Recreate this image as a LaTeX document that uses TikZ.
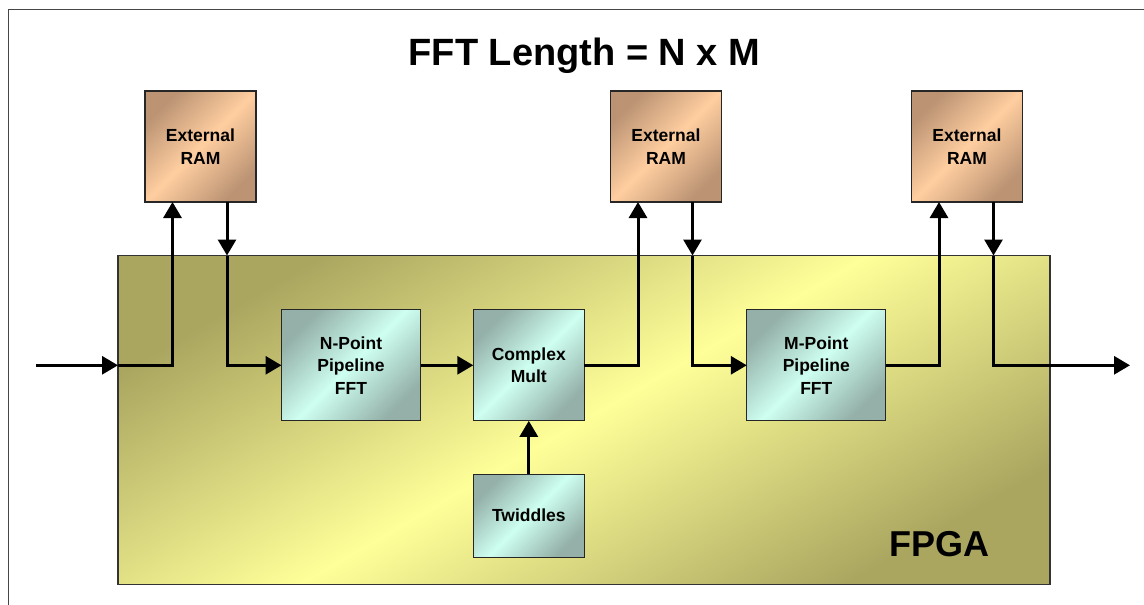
\documentclass[tikz,border=0pt]{standalone}
\usepackage{fontspec}
\setmainfont{Liberation Sans}
\usetikzlibrary{arrows.meta}

\definecolor{olivedark}{RGB}{170,166,96}
\definecolor{olivelight}{RGB}{255,255,153}
\definecolor{peachdark}{RGB}{188,148,116}
\definecolor{peachlight}{RGB}{255,206,160}
\definecolor{mintdark}{RGB}{148,176,168}
\definecolor{mintlight}{RGB}{206,255,240}
\definecolor{framegray}{RGB}{70,70,70}

\begin{document}
\begin{tikzpicture}[x=1pt,y=-1pt,
  box/.style={draw=black!85, line width=1.3pt, outer sep=0pt, inner sep=0pt,
    align=center, text=black, font=\bfseries\fontsize{17.5}{22.5}\selectfont},
  rambox/.style={box, minimum width=111pt, minimum height=111pt,
    top color=peachdark, bottom color=peachdark, middle color=peachlight, shading angle=45},
  corebox/.style={box, minimum width=#1, minimum height=111pt,
    top color=mintdark, bottom color=mintdark, middle color=mintlight, shading angle=45},
  chipbox/.style={draw=black!80, line width=1.3pt, outer sep=0pt, inner sep=0pt,
    minimum width=932pt, minimum height=329pt,
    top color=olivedark, bottom color=olivedark, middle color=olivelight, shading angle=30},
  flow/.style={line width=3pt, -{Triangle[length=16pt,width=18pt]}},
  bigtext/.style={font=\bfseries\fontsize{#1}{#1}\selectfont, text=black, inner sep=0pt, anchor=base},
]
\useasboundingbox (0,0) rectangle (1144,605);

% page frame
\draw[framegray, line width=1.5pt] (8.5,606) -- (8.5,9.5) -- (1145,9.5);

% title
\node[bigtext=38] (title) at (584.5,65) {FFT Length = N x M};

% FPGA area
\node[chipbox] (fpga) at (584,420) {};
\node[bigtext=36] (fpgalabel) at (939,556) {FPGA};

% external memories
\node[rambox] (ram1) at (200.5,146.5) {External\\RAM};
\node[rambox] (ram2) at (666,146.5) {External\\RAM};
\node[rambox] (ram3) at (967,146.5) {External\\RAM};

% processing blocks
\node[corebox=139pt] (npoint) at (351,365.3) {N-Point\\Pipeline\\FFT};
\node[corebox=111pt] (cmult) at (528.8,365.3) {Complex\\Mult};
\node[corebox=139pt] (mpoint) at (816.3,365.3) {M-Point\\Pipeline\\FFT};
\node[corebox=111pt, minimum height=83pt] (twid) at (528.8,515.7) {Twiddles};

% memory ports
\coordinate (r1up) at ([xshift=-28pt]ram1.south);
\coordinate (r1dn) at ([xshift=26.5pt]ram1.south);
\coordinate (r2up) at ([xshift=-28pt]ram2.south);
\coordinate (r2dn) at ([xshift=26.5pt]ram2.south);
\coordinate (r3up) at ([xshift=-28pt]ram3.south);
\coordinate (r3dn) at ([xshift=26.5pt]ram3.south);
\coordinate (in) at (36,365.3);
\coordinate (out) at (1130,365.3);

% data flow
\draw[flow] (in) -- (in -| fpga.west);
\draw[flow] (in -| fpga.west) -| (r1up);
\draw[flow] (r1dn) -- (r1dn |- fpga.north);
\draw[flow] (r1dn |- fpga.north) |- (npoint.west);
\draw[flow] (npoint.east) -- (cmult.west);
\draw[flow] (twid.north) -- (cmult.south);
\draw[flow] (cmult.east) -| (r2up);
\draw[flow] (r2dn) -- (r2dn |- fpga.north);
\draw[flow] (r2dn |- fpga.north) |- (mpoint.west);
\draw[flow] (mpoint.east) -| (r3up);
\draw[flow] (r3dn) -- (r3dn |- fpga.north);
\draw[flow] (r3dn |- fpga.north) |- (out);
\end{tikzpicture}
\end{document}
